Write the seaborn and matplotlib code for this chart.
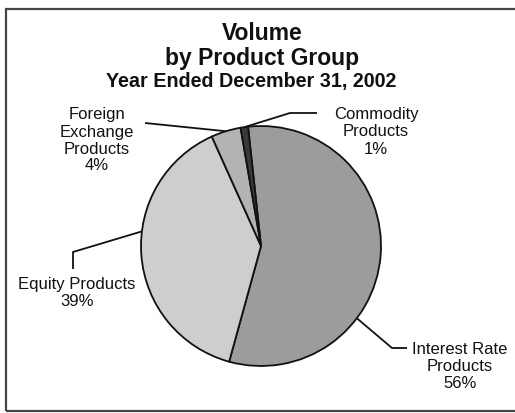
import numpy as np
import matplotlib
matplotlib.use("Agg")
import matplotlib.pyplot as plt
from matplotlib.patches import Rectangle
import seaborn as sns

# Share of trading volume by product group, year ended December 31, 2002
groups = ["Interest Rate\nProducts", "Equity Products", "Foreign\nExchange\nProducts", "Commodity\nProducts"]
shares = [56, 39, 4, 1]
colors = ["#9c9c9c", "#cecece", "#b3b3b3", "#3a3a3a"]

title_lines = ["Volume", "by Product Group"]
subtitle = "Year Ended December 31, 2002"

sns.set_theme(style="white")
plt.rcParams["font.family"] = ["Liberation Sans", "DejaVu Sans"]

W, H = 515, 414
fig = plt.figure(figsize=(W / 100, H / 100), dpi=100)
ax = fig.add_axes([0, 0, 1, 1])


def py(y):
    """Convert a top-down pixel row to the axis' bottom-up coordinate."""
    return H - y


cx, cy, r = 261, py(247), 120
wedges, _ = ax.pie(
    shares,
    colors=colors,
    startangle=96.2,
    counterclock=False,
    center=(cx, cy),
    radius=r,
    wedgeprops=dict(edgecolor="#111111", linewidth=1.3),
)
ax.set_xlim(0, W)
ax.set_ylim(0, H)
ax.set_aspect("equal")
ax.axis("off")


def edge_point(angle_deg):
    a = np.deg2rad(angle_deg)
    return cx + r * np.cos(a), cy + r * np.sin(a)


def mid_angle(w):
    return 0.5 * (w.theta1 + w.theta2)


# leader lines: pie edge point, then elbow / end points (pixel rows top-down)
leaders = [
    (-37.0, [(392, 349), (407, 349)]),
    (173.0, [(73, 253), (73, 270)]),
    (mid_angle(wedges[2]), [(145, 124)]),
    (mid_angle(wedges[3]), [(290, 114), (317, 114)]),
]
for ang, pts in leaders:
    x0, y0 = edge_point(ang)
    xs = [x0] + [p[0] for p in pts]
    ys = [y0] + [py(p[1]) for p in pts]
    ax.plot(xs, ys, color="#111111", lw=1.3, solid_capstyle="butt", zorder=3)

# category labels with their percentages
label_pos = [(460, 350), (77, 284), (97, 115), (376, 115)]
line_step = 17
for name, val, (lx, ly) in zip(groups, shares, label_pos):
    lines = name.split("\n") + [f"{val}%"]
    for i, t in enumerate(lines):
        ax.text(lx, py(ly + i * line_step), t, ha="center", va="center",
                fontsize=12, color="#111111")

# titles
ax.text(262, py(34), title_lines[0], ha="center", va="center",
        fontsize=16.5, fontweight="bold", color="#111111")
ax.text(262, py(59), title_lines[1], ha="center", va="center",
        fontsize=16.5, fontweight="bold", color="#111111")
ax.text(251, py(82), subtitle, ha="center", va="center",
        fontsize=14.2, fontweight="bold", color="#111111")

# surrounding frame (open on the right edge)
fig.patches.append(Rectangle((6 / W, 1 - 412 / H), (W + 10 - 6) / W, (412 - 10) / H,
                             transform=fig.transFigure, fill=False,
                             edgecolor="#444444", linewidth=1.6))

fig.savefig("out.png", dpi=100, facecolor="white")
